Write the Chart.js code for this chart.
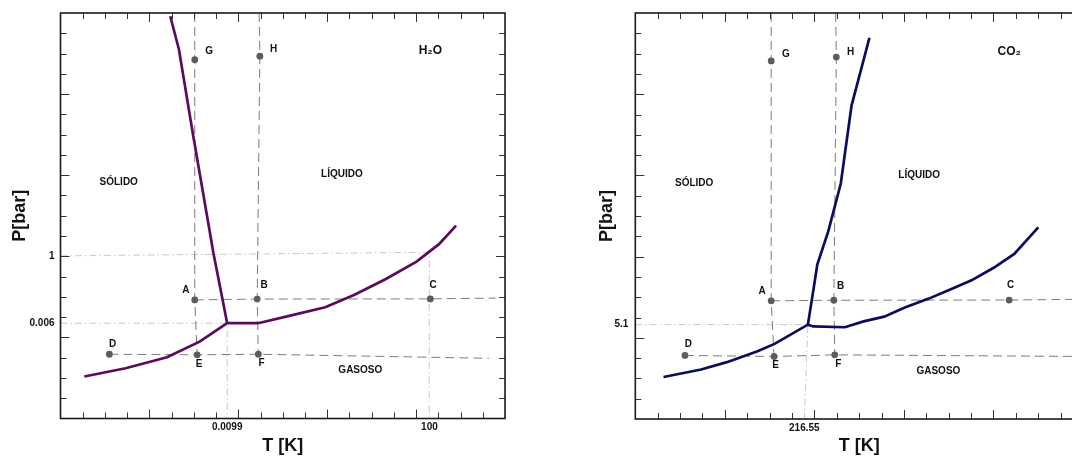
<!DOCTYPE html>
<html lang="es">
<head>
  <meta charset="UTF-8">
  <title>Diagramas de fase H2O y CO2</title>
  <style>
    html, body {
      margin: 0;
      padding: 0;
      background: #ffffff;
      overflow: hidden;
    }

    #wrap {
      position: relative;
      width: 1072px;
      height: 457px;
      overflow: hidden;
    }

    canvas {
      position: absolute;
      top: 0;
    }

    #h2o { left: 0; }
    #co2 { left: 535px; }
  </style>
</head>
<body>
  <div id="wrap">
    <canvas id="h2o" width="535" height="457"></canvas>
    <canvas id="co2" width="600" height="457"></canvas>
  </div>

  <script src="https://cdn.jsdelivr.net/npm/chart.js"></script>
  <script>
    // ---- H2O (schematic units, axes 0..20) ----
    const h2oVapT = [1.07, 2.93, 4.79, 6.26, 7.50, 8.89, 10.29, 11.91, 13.23, 14.62, 16.02, 17.03, 17.80];
    const h2oVapP = [2.07, 2.48, 3.02, 3.79, 4.70, 4.70, 5.06, 5.49, 6.10, 6.87, 7.74, 8.60, 9.51];
    const h2oMeltT = [7.50, 6.88, 5.95, 5.33, 4.94];
    const h2oMeltP = [4.70, 8.16, 14.08, 18.20, 19.84];
    const pointNames = ['A', 'B', 'C', 'D', 'E', 'F', 'G', 'H'];
    const h2oPtT = [6.04, 8.85, 16.64, 2.20, 6.15, 8.90, 6.04, 8.97];
    const h2oPtP = [5.85, 5.89, 5.90, 3.17, 3.14, 3.17, 17.70, 17.87];
    const h2oGuideGT = [6.04, 6.04, 6.04, 6.15];
    const h2oGuideGP = [20, 17.70, 5.85, 3.14];
    const h2oGuideHT = [8.94, 8.97, 8.85, 8.90];
    const h2oGuideHP = [20, 17.87, 5.89, 3.17];
    const h2oGuideAT = [6.04, 8.85, 16.64, 19.58];
    const h2oGuideAP = [5.85, 5.89, 5.90, 5.94];
    const h2oGuideDT = [2.20, 6.15, 8.90, 19.27];
    const h2oGuideDP = [3.17, 3.14, 3.17, 2.97];
    const h2oTripleT = [0, 7.50, 7.50];
    const h2oTripleP = [4.70, 4.70, 0];
    const h2oBoilT = [0, 16.59, 16.59];
    const h2oBoilP = [8.02, 8.20, 0];
    const h2oXTickPos = [7.50, 16.60];
    const h2oXTickLbl = ['0.0099', '100'];
    const h2oYTickPos = [4.70, 8.02];
    const h2oYTickLbl = ['0.006', '1'];

    // ---- CO2 ----
    const co2VapT = [1.26, 2.94, 4.09, 5.46, 6.22, 7.71, 7.95, 9.36, 10.20, 11.12, 12.04, 13.11, 14.02, 15.02, 16.01, 16.93, 18.00];
    const co2VapP = [2.07, 2.44, 2.80, 3.34, 3.70, 4.65, 4.56, 4.52, 4.81, 5.04, 5.49, 5.93, 6.36, 6.83, 7.45, 8.13, 9.44];
    const co2MeltT = [7.71, 7.95, 8.13, 8.62, 9.18, 9.66, 10.46];
    const co2MeltP = [4.65, 6.31, 7.61, 9.24, 11.60, 15.44, 18.78];
    const co2PtT = [6.07, 8.87, 16.70, 2.22, 6.20, 8.91, 6.07, 8.98];
    const co2PtP = [5.82, 5.85, 5.86, 3.13, 3.08, 3.16, 17.64, 17.83];
    const co2GuideGT = [6.07, 6.07, 6.07, 6.20];
    const co2GuideGP = [20, 17.64, 5.82, 3.08];
    const co2GuideHT = [8.95, 8.98, 8.87, 8.91];
    const co2GuideHP = [20, 17.83, 5.85, 3.16];
    const co2GuideAT = [6.07, 8.87, 16.70, 20];
    const co2GuideAP = [5.82, 5.85, 5.86, 5.90];
    const co2GuideDT = [2.22, 6.20, 8.91, 20];
    const co2GuideDP = [3.13, 3.08, 3.16, 3.08];
    const co2TripleT = [0, 7.71, 7.55];
    const co2TripleP = [4.65, 4.65, 0];
    const co2XTickPos = [7.55];
    const co2XTickLbl = ['216.55'];
    const co2YTickPos = [4.65];
    const co2YTickLbl = ['5.1'];

    // text annotations, anchored in axis units
    const h2oNotes = [
      { t: 'SÓLIDO', x: 2.62, y: 11.65 }, { t: 'LÍQUIDO', x: 12.66, y: 12.06 },
      { t: 'GASOSO', x: 13.49, y: 2.40 }, { t: 'H₂O', x: 16.64, y: 18.15, big: true },
      { t: 'A', x: 5.64, y: 6.31 }, { t: 'B', x: 9.16, y: 6.59 }, { t: 'C', x: 16.76, y: 6.59 },
      { t: 'D', x: 2.35, y: 3.68 }, { t: 'E', x: 6.23, y: 2.66 }, { t: 'F', x: 9.05, y: 2.72 },
      { t: 'G', x: 6.69, y: 18.12 }, { t: 'H', x: 9.59, y: 18.20 }
    ];
    const co2Notes = [
      { t: 'SÓLIDO', x: 2.63, y: 11.60 }, { t: 'LÍQUIDO', x: 12.68, y: 12.01 },
      { t: 'GASOSO', x: 13.54, y: 2.36 }, { t: 'CO₂', x: 16.70, y: 18.08, big: true },
      { t: 'A', x: 5.66, y: 6.27 }, { t: 'B', x: 9.17, y: 6.55 }, { t: 'C', x: 16.77, y: 6.59 },
      { t: 'D', x: 2.37, y: 3.67 }, { t: 'E', x: 6.27, y: 2.67 }, { t: 'F', x: 9.07, y: 2.72 },
      { t: 'G', x: 6.73, y: 17.96 }, { t: 'H', x: 9.62, y: 18.08 }
    ];

    const FONT = '"Liberation Sans", Arial, Helvetica, sans-serif';

    function pts(xs, ys) {
      return xs.map((x, i) => ({ x: x, y: ys[i] }));
    }

    // frame, inner tick marks and text labels
    function decor(notes) {
      return {
        id: 'decor',
        afterDatasetsDraw(chart) {
          const { ctx, chartArea: a, scales: { x, y } } = chart;
          ctx.save();
          ctx.strokeStyle = '#333';
          ctx.lineWidth = 1;
          ctx.beginPath();
          for (let i = 1; i < 20; i++) {
            const len = i % 4 === 0 ? 9 : 6;
            const px = Math.round(x.getPixelForValue(i)) + 0.5;
            const py = Math.round(y.getPixelForValue(i)) + 0.5;
            ctx.moveTo(px, a.bottom); ctx.lineTo(px, a.bottom - len);
            ctx.moveTo(px, a.top); ctx.lineTo(px, a.top + len);
            ctx.moveTo(a.left, py); ctx.lineTo(a.left + len, py);
            ctx.moveTo(a.right, py); ctx.lineTo(a.right - len, py);
          }
          ctx.stroke();
          ctx.lineWidth = 1.6;
          ctx.strokeStyle = '#1a1a1a';
          ctx.strokeRect(a.left, a.top, a.right - a.left, a.bottom - a.top);

          ctx.fillStyle = '#111';
          ctx.textAlign = 'center';
          ctx.textBaseline = 'middle';
          notes.forEach(n => {
            ctx.font = 'bold ' + (n.big ? 12 : 10) + 'px ' + FONT;
            ctx.fillText(n.t, x.getPixelForValue(n.x), y.getPixelForValue(n.y));
          });
          ctx.restore();
        }
      };
    }

    function makePanel(id, d) {
      const guide = (xs, ys) => ({
        data: pts(xs, ys), showLine: true, pointRadius: 0,
        borderColor: '#7d7d7d', borderWidth: 1, borderDash: [9, 5]
      });
      const dashDot = (xs, ys) => ({
        data: pts(xs, ys), showLine: true, pointRadius: 0,
        borderColor: '#c9c9c9', borderWidth: 1, borderDash: [7, 3, 1.5, 3]
      });
      const curve = (xs, ys) => ({
        data: pts(xs, ys), showLine: true, pointRadius: 0,
        borderColor: d.color, borderWidth: 2.7, tension: 0
      });

      const datasets = [
        curve(d.vapT, d.vapP),
        curve(d.meltT, d.meltP),
        {
          data: pts(d.ptT, d.ptP), showLine: false, pointRadius: 3.4,
          pointBackgroundColor: '#5c5c5c', pointBorderWidth: 0
        }
      ];
      d.guides.forEach(g => datasets.push(guide(g[0], g[1])));
      d.refs.forEach(r => datasets.push(dashDot(r[0], r[1])));

      const tickFont = { family: FONT, size: 10, weight: 'bold' };
      const titleFont = { family: FONT, size: 18, weight: 'bold' };

      return new Chart(document.getElementById(id), {
        type: 'scatter',
        data: { datasets: datasets },
        plugins: [decor(d.notes)],
        options: {
          responsive: false,
          animation: false,
          devicePixelRatio: 1,
          events: [],
          layout: { padding: d.pad },
          plugins: { legend: { display: false }, tooltip: { enabled: false } },
          scales: {
            x: {
              type: 'linear', min: 0, max: 20,
              grid: { display: false, drawTicks: false },
              border: { display: false },
              afterBuildTicks: s => { s.ticks = d.xTickPos.map(v => ({ value: v })); },
              afterFit: s => { s.height = d.xH; },
              ticks: {
                autoSkip: false, maxRotation: 0, padding: 3, color: '#111', font: tickFont,
                callback: (v, i) => d.xTickLbl[i]
              },
              title: { display: true, text: 'T [K]', color: '#111', font: titleFont, padding: { top: 0, bottom: 0 } }
            },
            y: {
              type: 'linear', min: 0, max: 20,
              grid: { display: false, drawTicks: false },
              border: { display: false },
              afterBuildTicks: s => { s.ticks = d.yTickPos.map(v => ({ value: v })); },
              afterFit: s => { s.width = d.yW; },
              ticks: {
                autoSkip: false, padding: d.yTickPad, color: '#111', font: tickFont,
                callback: (v, i) => d.yTickLbl[i]
              },
              title: { display: true, text: 'P[bar]', color: '#111', font: titleFont, padding: { top: d.yTitlePad, bottom: 0 } }
            }
          }
        }
      });
    }

    makePanel('h2o', {
      color: '#5b0a5e',
      vapT: h2oVapT, vapP: h2oVapP, meltT: h2oMeltT, meltP: h2oMeltP,
      ptT: h2oPtT, ptP: h2oPtP,
      guides: [[h2oGuideGT, h2oGuideGP], [h2oGuideHT, h2oGuideHP], [h2oGuideAT, h2oGuideAP], [h2oGuideDT, h2oGuideDP]],
      refs: [[h2oTripleT, h2oTripleP], [h2oBoilT, h2oBoilP]],
      xTickPos: h2oXTickPos, xTickLbl: h2oXTickLbl, yTickPos: h2oYTickPos, yTickLbl: h2oYTickLbl,
      notes: h2oNotes,
      pad: { top: 13, right: 30, bottom: 0, left: 0 },
      xH: 38.5, yW: 60.5, yTickPad: 6, yTitlePad: 9
    });

    makePanel('co2', {
      color: '#0c0c5c',
      vapT: co2VapT, vapP: co2VapP, meltT: co2MeltT, meltP: co2MeltP,
      ptT: co2PtT, ptP: co2PtP,
      guides: [[co2GuideGT, co2GuideGP], [co2GuideHT, co2GuideHP], [co2GuideAT, co2GuideAP], [co2GuideDT, co2GuideDP]],
      refs: [[co2TripleT, co2TripleP]],
      xTickPos: co2XTickPos, xTickLbl: co2XTickLbl, yTickPos: co2YTickPos, yTickLbl: co2YTickLbl,
      notes: co2Notes,
      pad: { top: 10, right: 52, bottom: 0, left: 0 },
      xH: 38, yW: 100.3, yTickPad: 7, yTitlePad: 61
    });
  </script>
</body>
</html>
